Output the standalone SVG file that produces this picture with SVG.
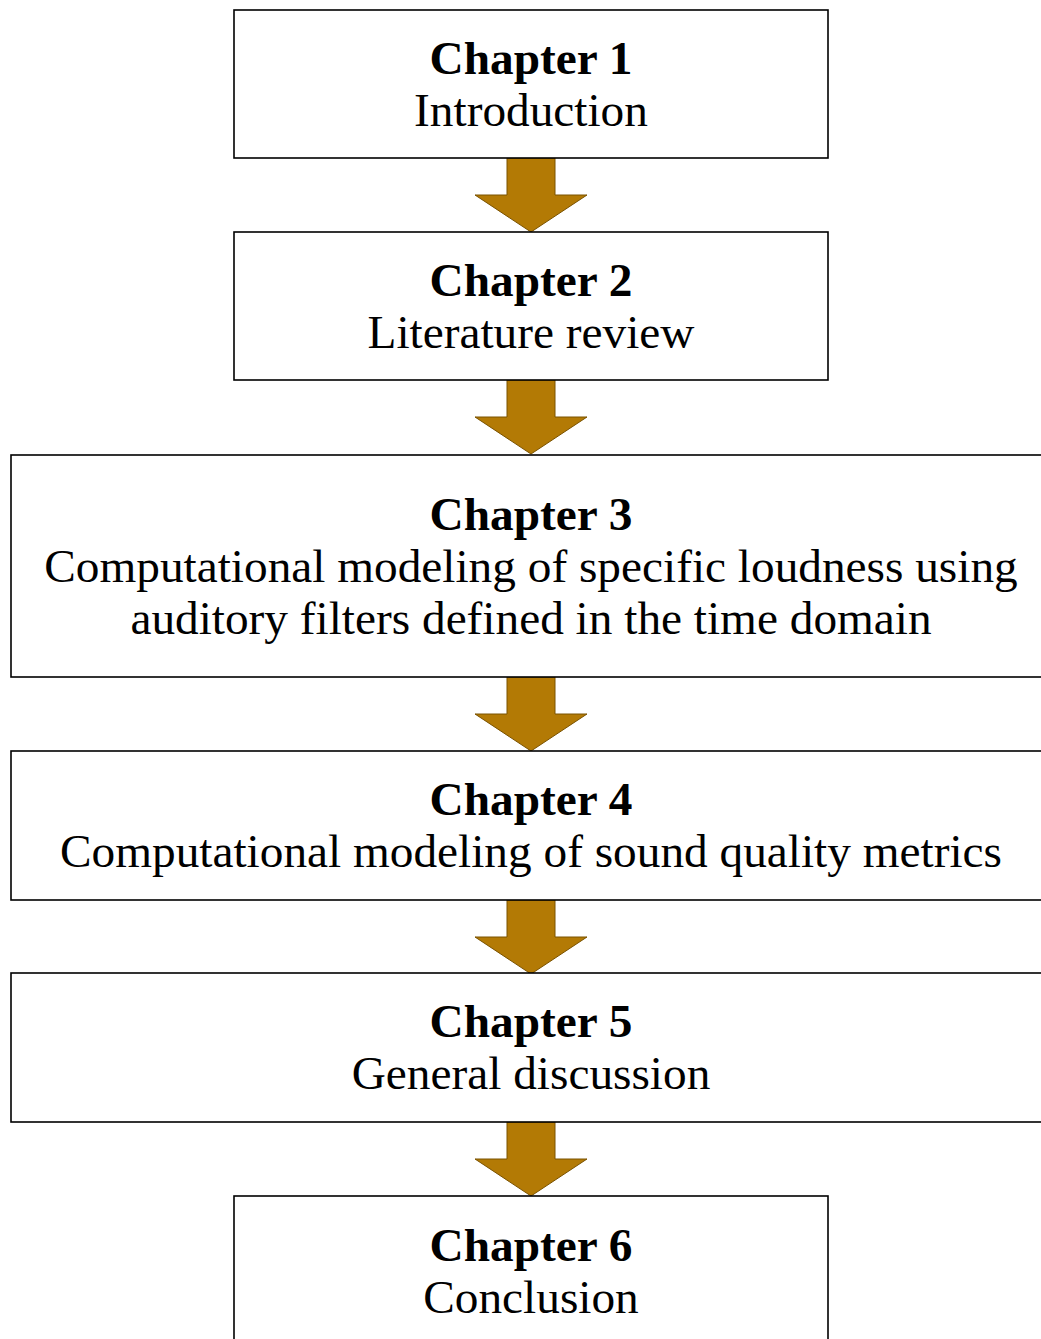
<svg xmlns="http://www.w3.org/2000/svg" width="1041" height="1339" viewBox="0 0 1041 1339">
<defs>
<style>
.box{fill:#fff;stroke:#000;stroke-width:1.6}
.arr{fill:#B37A05;stroke:#7A5200;stroke-width:1}
text{font-family:"Liberation Serif","Times New Roman",serif;font-size:47.3px;text-anchor:middle;fill:#000}
.b{font-weight:bold}
</style>
<path id="arrow" d="M-24,0 H24 V37 H56 L0,74 L-56,37 H-24 Z"/>
</defs>
<rect width="1041" height="1339" fill="#fff"/>
<g id="connectors">
<use href="#arrow" class="arr" transform="translate(531,158)"/>
<use href="#arrow" class="arr" transform="translate(531,380)"/>
<use href="#arrow" class="arr" transform="translate(531,677)"/>
<use href="#arrow" class="arr" transform="translate(531,900)"/>
<use href="#arrow" class="arr" transform="translate(531,1122)"/>
</g>
<g id="ch1">
<rect class="box" x="234" y="10" width="594" height="148"/>
<text class="b" x="531" y="74">Chapter 1</text>
<text x="531" y="126">Introduction</text>
</g>
<g id="ch2">
<rect class="box" x="234" y="232" width="594" height="148"/>
<text class="b" x="531" y="296">Chapter 2</text>
<text x="531" y="348">Literature review</text>
</g>
<g id="ch3">
<rect class="box" x="11" y="455" width="1040" height="222"/>
<text class="b" x="531" y="530">Chapter 3</text>
<text x="531" y="582">Computational modeling of specific loudness using</text>
<text x="531" y="634">auditory filters defined in the time domain</text>
</g>
<g id="ch4">
<rect class="box" x="11" y="751" width="1040" height="149"/>
<text class="b" x="531" y="815">Chapter 4</text>
<text x="531" y="867">Computational modeling of sound quality metrics</text>
</g>
<g id="ch5">
<rect class="box" x="11" y="973" width="1040" height="149"/>
<text class="b" x="531" y="1037">Chapter 5</text>
<text x="531" y="1089">General discussion</text>
</g>
<g id="ch6">
<rect class="box" x="234" y="1196" width="594" height="160"/>
<text class="b" x="531" y="1261">Chapter 6</text>
<text x="531" y="1313">Conclusion</text>
</g>
</svg>
